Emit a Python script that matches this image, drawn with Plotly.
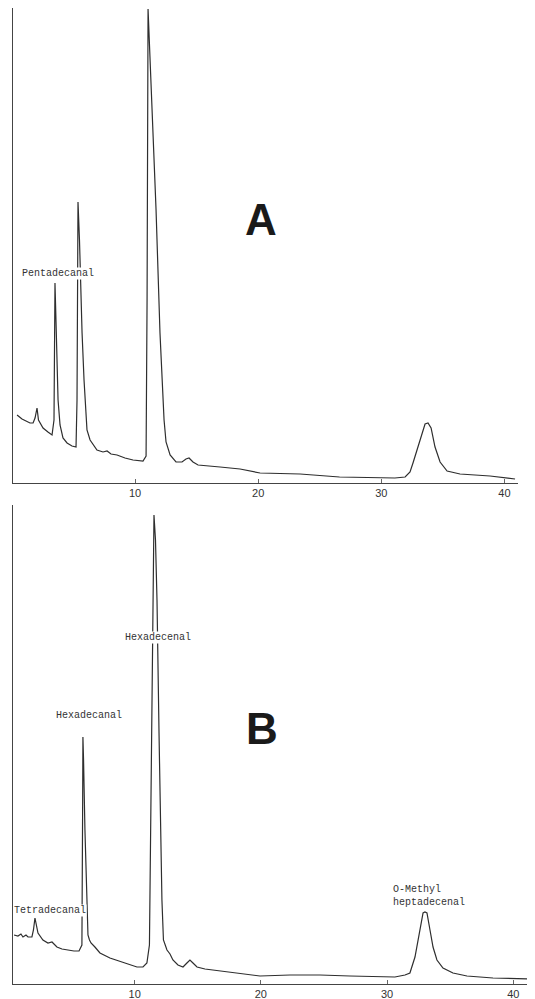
import plotly.graph_objects as go

# ---- Chromatogram A (retention time, min ; detector signal, arbitrary units) ----
time_a = [0.41, 0.81, 1.46, 1.71, 1.87, 2.03, 2.15, 2.52, 2.92, 3.25, 3.41, 3.49, 3.57, 3.74, 3.90,
          4.14, 4.47, 4.87, 5.20, 5.28, 5.36, 5.48, 5.69, 5.85, 6.09, 6.34, 6.90, 7.39, 7.72, 8.04,
          8.53, 9.18, 9.83, 10.64, 10.89, 10.97, 11.05, 11.21, 11.37, 11.70, 12.02, 12.35, 12.51, 12.84,
          13.32, 13.81, 14.13, 14.38, 14.70, 15.11, 16.90, 18.52, 20.15, 23.40, 26.60, 29.90, 31.10,
          31.93, 32.33, 32.57, 32.98, 33.31, 33.55, 33.79, 34.04, 34.36, 34.77, 35.34, 36.39, 38.83, 40.86]
signal_a = [68, 64, 60, 60, 65, 75, 63, 55, 51, 48, 63, 200, 163, 83, 58,
            45, 40, 37, 36, 83, 281, 243, 150, 103, 53, 43, 33, 31, 32, 29,
            28, 25, 23, 22, 27, 183, 474, 423, 383, 273, 150, 63, 41, 28,
            21, 21, 24, 25, 21, 18, 16, 14, 10, 9, 6, 5, 5,
            6, 11, 20, 36, 51, 59, 60, 55, 36, 21, 12, 9, 7, 4]

# ---- Chromatogram B ----
time_b = [0.44, 0.75, 0.99, 1.15, 1.39, 1.55, 1.86, 1.98, 2.10, 2.22, 2.34, 2.73, 3.13, 3.45, 3.68,
          3.84, 4.24, 4.64, 5.19, 5.59, 5.82, 5.88, 5.90, 5.95, 6.06, 6.20, 6.30, 6.42, 6.54, 6.85,
          7.25, 8.04, 9.07, 10.18, 10.66, 10.97, 11.17, 11.29, 11.41, 11.53, 11.65, 11.77, 11.93, 12.08,
          12.16, 12.28, 12.56, 12.80, 13.03, 13.43, 13.83, 14.14, 14.38, 14.62, 14.94, 15.57, 17.55,
          19.93, 22.31, 24.68, 27.06, 29.44, 30.62, 31.42, 31.81, 32.21, 32.45, 32.69, 32.85, 33.00,
          33.16, 33.40, 33.64, 33.95, 34.43, 35.22, 36.33, 38.39, 41.56]
signal_b = [49, 48, 50, 47, 49, 47, 47, 54, 66, 59, 51, 44, 41, 42, 39,
            37, 35, 34, 33, 33, 39, 184, 247, 224, 154, 84, 49, 44, 41, 37,
            31, 26, 22, 17, 17, 21, 39, 184, 364, 469, 444, 384, 251, 144,
            84, 44, 34, 30, 24, 19, 17, 21, 24, 21, 17, 15, 12,
            8, 9, 9, 8, 7, 7, 9, 11, 27, 44, 61, 71, 72,
            71, 54, 37, 24, 16, 11, 8, 6, 5]

tick_vals = [10, 20, 30, 40]
tick_text = ["10", "20", "30", "40"]

# peak labels: (text, time, signal)
labels_a = [("Pentadecanal", 3.74, 210)]
labels_b = [("Tetradecanal", 3.3, 74), ("Hexadecanal", 6.38, 269), ("Hexadecenal", 11.85, 347)]
label_b_methyl = ("O-Methyl<br>heptadecenal", 30.4, 88)

# page body has an 8px margin: the figure is drawn from (8, 8)
OFF = 8
W, H = 535 - OFF, 999 - OFF
line_col = "#2e2e2e"

fig = go.Figure()
fig.add_trace(go.Scatter(x=time_a, y=signal_a, mode="lines", xaxis="x", yaxis="y",
                         line=dict(color=line_col, width=1.2), hoverinfo="skip", showlegend=False))
fig.add_trace(go.Scatter(x=time_b, y=signal_b, mode="lines", xaxis="x2", yaxis="y2",
                         line=dict(color=line_col, width=1.2), hoverinfo="skip", showlegend=False))

def px_x(p):
    return (p - OFF) / W

def px_y(p):
    return 1 - (p - OFF) / H

axis_common = dict(showgrid=False, zeroline=False, showline=True, linecolor="#444", linewidth=1,
                   mirror=False, fixedrange=True)
tick_font = dict(family="Liberation Sans, Arial", size=11, color="#333")

fig.update_layout(
    width=W, height=H,
    margin=dict(l=0, r=0, t=0, b=0),
    paper_bgcolor="white", plot_bgcolor="white",
    xaxis=dict(domain=[px_x(13), px_x(518)], range=[0.08, 41.1], anchor="y",
               tickvals=tick_vals, ticktext=tick_text, ticks="inside", ticklen=4, tickcolor="#666",
               tickfont=tick_font, **axis_common),
    yaxis=dict(domain=[px_y(483), px_y(8)], range=[0, 475], anchor="x",
               showticklabels=False, ticks="", **axis_common),
    xaxis2=dict(domain=[px_x(13), 1.0], range=[0.36, 41.72], anchor="y2",
                tickvals=tick_vals, ticktext=tick_text, ticks="inside", ticklen=4, tickcolor="#666",
                tickfont=tick_font, **axis_common),
    yaxis2=dict(domain=[px_y(984), px_y(505)], range=[0, 479], anchor="x2",
                showticklabels=False, ticks="", **axis_common),
)

mono = dict(family="Liberation Mono, DejaVu Sans Mono, monospace", size=10, color="#333")

for text, t, s in labels_a:
    fig.add_annotation(x=t, y=s, xref="x", yref="y", text=text, showarrow=False,
                       font=mono, bgcolor="white", borderpad=0)
for text, t, s in labels_b:
    fig.add_annotation(x=t, y=s, xref="x2", yref="y2", text=text, showarrow=False,
                       font=mono, bgcolor="white", borderpad=0)
fig.add_annotation(x=label_b_methyl[1], y=label_b_methyl[2], xref="x2", yref="y2",
                   text=label_b_methyl[0], showarrow=False, font=mono, align="left",
                   xanchor="left", yanchor="middle", borderpad=0)

big = dict(family="Liberation Sans, Arial", size=44, color="#1a1a1a")
fig.add_annotation(x=px_x(261), y=px_y(219), xref="paper", yref="paper", text="<b>A</b>",
                   showarrow=False, font=big, xanchor="center", yanchor="middle")
fig.add_annotation(x=px_x(262), y=px_y(728), xref="paper", yref="paper", text="<b>B</b>",
                   showarrow=False, font=big, xanchor="center", yanchor="middle")

fig.write_html("out.html")
